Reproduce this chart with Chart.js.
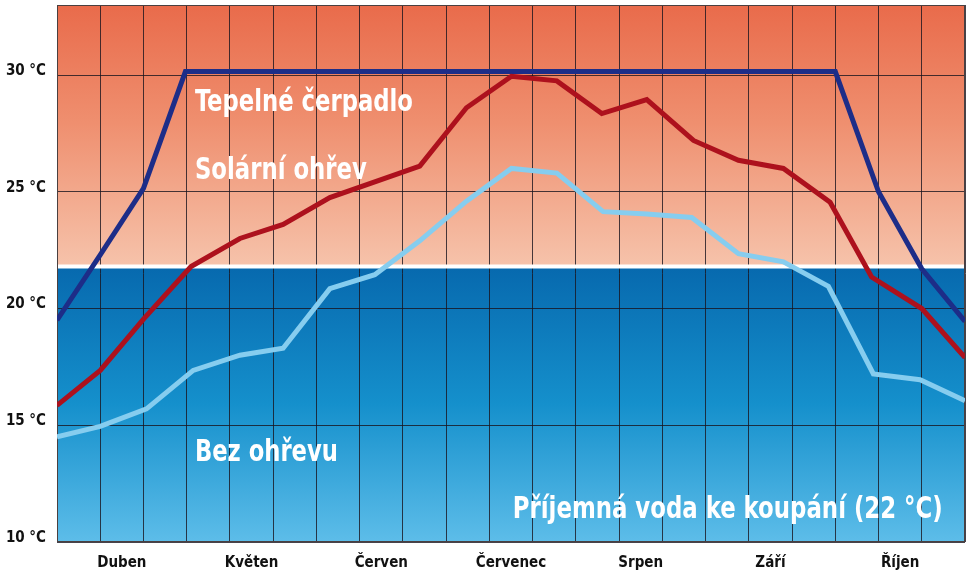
<!DOCTYPE html>
<html><head><meta charset="utf-8">
<script src="https://cdn.jsdelivr.net/npm/chart.js@4"></script>
<style>html,body{margin:0;padding:0;background:#fff}#wrap{width:978px;height:579px;position:relative}</style>
</head><body><div id="wrap"><canvas id="c"></canvas></div>
<script>
// ---- data ----
const months = ['Duben', 'Květen', 'Červen', 'Červenec', 'Srpen', 'Září', 'Říjen'];
const monthCenters = [1.5, 4.5, 7.5, 10.5, 13.5, 16.5, 19.5];
const yTicks = [10, 15, 20, 25, 30];
const comfortLevel = 21.8;

const heatPumpX = [0, 1, 2, 2.97, 18, 19, 20, 21];
const heatPumpY = [19.5, 22.3, 25.15, 30.15, 30.15, 25.0, 21.7, 19.45];

const solarX = [0, 1, 2, 3.1, 4.23, 5.23, 6.31, 8.39, 9.47, 10.51, 11.56, 12.6, 13.64, 14.72, 15.76, 16.8, 17.88, 18.84, 20, 21];
const solarY = [15.85, 17.35, 19.55, 21.8, 23.0, 23.6, 24.75, 26.1, 28.6, 29.95, 29.75, 28.35, 28.95, 27.2, 26.35, 26.0, 24.55, 21.35, 20.0, 17.9];

const noneX = [0, 1, 2.07, 3.15, 4.23, 5.23, 6.31, 7.35, 8.39, 9.47, 10.51, 11.56, 12.63, 13.64, 14.68, 15.76, 16.8, 17.84, 18.88, 19.96, 21];
const noneY = [14.5, 14.95, 15.7, 17.35, 18.0, 18.3, 20.85, 21.45, 22.9, 24.6, 26.0, 25.8, 24.15, 24.05, 23.9, 22.35, 22.0, 20.95, 17.2, 16.95, 16.05];

const labels = ['Tepelné čerpadlo', 'Solární ohřev', 'Bez ohřevu', 'Příjemná voda ke koupání (22 °C)'];

// ---- chart ----
const FONT = "'Liberation Sans Narrow','DejaVu Sans Condensed','Arial Narrow',sans-serif";
const pts = (xs, ys) => xs.map((x, i) => ({x, y: ys[i]}));

const bgPlugin = {
  id: 'bg',
  beforeDraw(chart) {
    const {ctx, chartArea: a, scales: {y}} = chart;
    const ys = y.getPixelForValue(comfortLevel);
    ctx.save();
    let g = ctx.createLinearGradient(0, a.top, 0, ys);
    g.addColorStop(0, '#e96b4b');
    g.addColorStop(0.45, '#ef8f6f');
    g.addColorStop(1, '#f6c3ab');
    ctx.fillStyle = g;
    ctx.fillRect(a.left, a.top, a.right - a.left, ys - a.top);
    g = ctx.createLinearGradient(0, ys, 0, a.bottom);
    g.addColorStop(0, '#0769ae');
    g.addColorStop(0.5, '#1590cc');
    g.addColorStop(1, '#5dbde9');
    ctx.fillStyle = g;
    ctx.fillRect(a.left, ys, a.right - a.left, a.bottom - ys);
    ctx.restore();
  },
  beforeDatasetsDraw(chart) {
    const {ctx, chartArea: a, scales: {y}} = chart;
    const ys = y.getPixelForValue(comfortLevel);
    ctx.save();
    ctx.fillStyle = '#ffffff';
    ctx.fillRect(a.left, ys - 2, a.right - a.left, 4);
    ctx.strokeStyle = '#4a4040';
    ctx.lineWidth = 1;
    ctx.strokeRect(a.left + 0.5, a.top + 0.5, a.right - a.left - 1, a.bottom - a.top - 1);
    ctx.restore();
  }
};

const textPlugin = {
  id: 'texts',
  afterDatasetsDraw(chart) {
    const {ctx, scales: {x, y}} = chart;
    const items = [
      {t: labels[0], x: 3.19, y: 28.48, w: 218},
      {t: labels[1], x: 3.19, y: 25.53, w: 172},
      {t: labels[2], x: 3.19, y: 13.46, w: 143},
      {t: labels[3], x: 10.54, y: 11.03, w: 430}
    ];
    ctx.save();
    ctx.fillStyle = '#ffffff';
    ctx.textBaseline = 'alphabetic';
    ctx.textAlign = 'left';
    ctx.font = 'bold 31px ' + FONT;
    items.forEach(it => {
      const px = x.getPixelForValue(it.x), py = y.getPixelForValue(it.y);
      const m = ctx.measureText(it.t).width;
      ctx.save();
      ctx.translate(px, py);
      ctx.scale(it.w / m, 1);
      ctx.fillText(it.t, 0, 0);
      ctx.restore();
    });
    ctx.restore();
  }
};

const lineDs = (label, data, color) => ({
  label, data, borderColor: color, borderWidth: 5, pointRadius: 0, tension: 0,
  fill: false, borderJoinStyle: 'miter', borderCapStyle: 'butt'
});

new Chart(document.getElementById('c'), {
  type: 'line',
  data: {
    datasets: [
      lineDs(labels[2], pts(noneX, noneY), '#86cdef'),
      lineDs(labels[1], pts(solarX, solarY), '#ad111d'),
      lineDs(labels[0], pts(heatPumpX, heatPumpY), '#1d2d88')
    ]
  },
  options: {
    responsive: true,
    maintainAspectRatio: false,
    animation: false,
    events: [],
    layout: {padding: {top: 5, right: 13, left: 0, bottom: 0}},
    plugins: {legend: {display: false}, tooltip: {enabled: false}},
    scales: {
      x: {
        type: 'linear', min: 0, max: 21, position: 'bottom',
        afterBuildTicks: s => { s.ticks = Array.from({length: 22}, (_, i) => ({value: i})); },
        afterFit: s => { s.height = 0; s.paddingLeft = 0; s.paddingRight = 0; },
        ticks: {display: false, autoSkip: false},
        grid: {color: 'rgba(25,20,30,0.8)', lineWidth: 1, drawTicks: false},
        border: {display: false}
      },
      x2: {
        type: 'linear', min: 0, max: 21, position: 'bottom',
        afterBuildTicks: s => { s.ticks = monthCenters.map(v => ({value: v})); },
        afterFit: s => { s.height = 37; s.paddingLeft = 0; s.paddingRight = 0; },
        ticks: {
          autoSkip: false, maxRotation: 0, padding: 12, color: '#111',
          font: {family: FONT, size: 15, weight: 'bold'},
          callback: (v, i) => months[i]
        },
        grid: {display: false, drawTicks: false},
        border: {display: false}
      },
      y: {
        type: 'linear', min: 10, max: 33,
        afterBuildTicks: s => { s.ticks = yTicks.map(v => ({value: v})); },
        afterFit: s => { s.width = 57; s.paddingTop = 0; s.paddingBottom = 0; },
        ticks: {
          padding: 11, labelOffset: -4, color: '#111',
          font: {family: FONT, size: 15, weight: 'bold'},
          callback: v => v + ' °C'
        },
        grid: {color: 'rgba(25,20,30,0.8)', lineWidth: 1, drawTicks: false},
        border: {display: false}
      }
    }
  },
  plugins: [bgPlugin, textPlugin]
});
</script>
</body></html>
